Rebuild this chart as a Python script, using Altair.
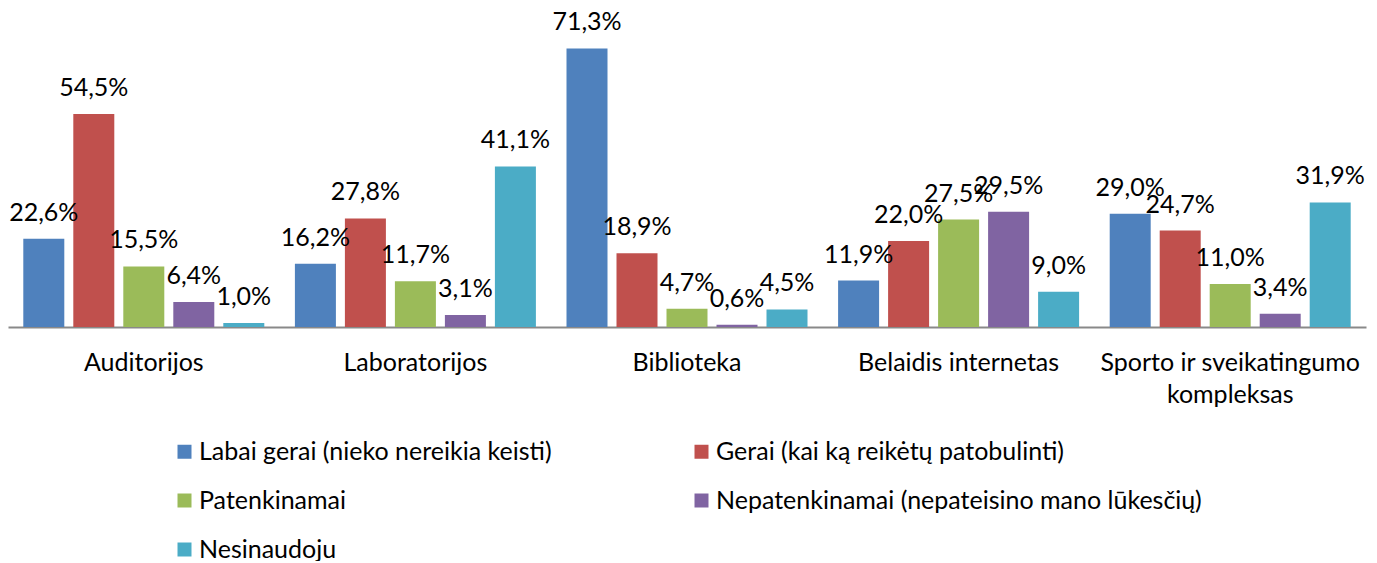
import altair as alt
import pandas as pd

categories = ["Auditorijos", "Laboratorijos", "Biblioteka", "Belaidis internetas",
              "Sporto ir sveikatingumo kompleksas"]
series = ["Labai gerai (nieko nereikia keisti)", "Gerai (kai ką reikėtų patobulinti)",
          "Patenkinamai", "Nepatenkinamai (nepateisino mano lūkesčių)", "Nesinaudoju"]
colors = ["#4F81BD", "#C0504D", "#9BBB59", "#8064A2", "#4BACC6"]

labai_gerai = [22.6, 16.2, 71.3, 11.9, 29.0]
gerai = [54.5, 27.8, 18.9, 22.0, 24.7]
patenkinamai = [15.5, 11.7, 4.7, 27.5, 11.0]
nepatenkinamai = [6.4, 3.1, 0.6, 29.5, 3.4]
nesinaudoju = [1.0, 41.1, 4.5, 9.0, 31.9]

values = [labai_gerai, gerai, patenkinamai, nepatenkinamai, nesinaudoju]
rows = []
for s, vals in zip(series, values):
    for c, v in zip(categories, vals):
        rows.append({"cat": c, "series": s, "value": v,
                     "label": f"{v:.1f}".replace(".", ",") + "%"})
df = pd.DataFrame(rows)

FONT = "Lato"
FS = 25

base = alt.Chart(df).encode(
    x=alt.X("cat:N", sort=categories, title=None,
            scale=alt.Scale(paddingInner=0, paddingOuter=0),
            axis=alt.Axis(labelFont=FONT, labelFontSize=FS, labelColor="#000000",
                          labelAngle=0, ticks=False, tickSize=0, labelPadding=23,
                          labelLimit=500, labelLineHeight=32,
                          domainColor="#898989", domainWidth=2,
                          labelExpr="datum.value == 'Sporto ir sveikatingumo kompleksas' ? ['Sporto ir sveikatingumo', 'kompleksas'] : datum.value")),
    xOffset=alt.XOffset("series:N", sort=series,
                        scale=alt.Scale(paddingInner=0.18, paddingOuter=0.306)),
    y=alt.Y("value:Q", scale=alt.Scale(domain=[0, 75]), axis=None),
)

bars = base.mark_bar().encode(
    color=alt.Color("series:N", sort=series,
                    scale=alt.Scale(domain=series, range=colors),
                    legend=alt.Legend(title=None, orient="none", legendX=164, legendY=405,
                                      direction="horizontal",
                                      columns=2, columnPadding=137, rowPadding=23,
                                      symbolType="square", symbolSize=196,
                                      symbolStrokeWidth=0, labelOffset=2,
                                      labelFont=FONT, labelFontSize=FS,
                                      labelColor="#000000", labelLimit=600,
                                      padding=0))
)

text = base.mark_text(baseline="alphabetic", align="center", dy=-18,
                      font=FONT, fontSize=FS, color="#000000").encode(
    text="label:N"
)

chart = (bars + text).properties(
    width=1358, height=293,
    autosize=alt.AutoSizeParams(type="none"),
    padding={"left": 0, "top": 26, "right": 3, "bottom": 234},
).configure_view(stroke=None)

chart.save("out.html", embed_options={"renderer": "svg", "actions": False})
